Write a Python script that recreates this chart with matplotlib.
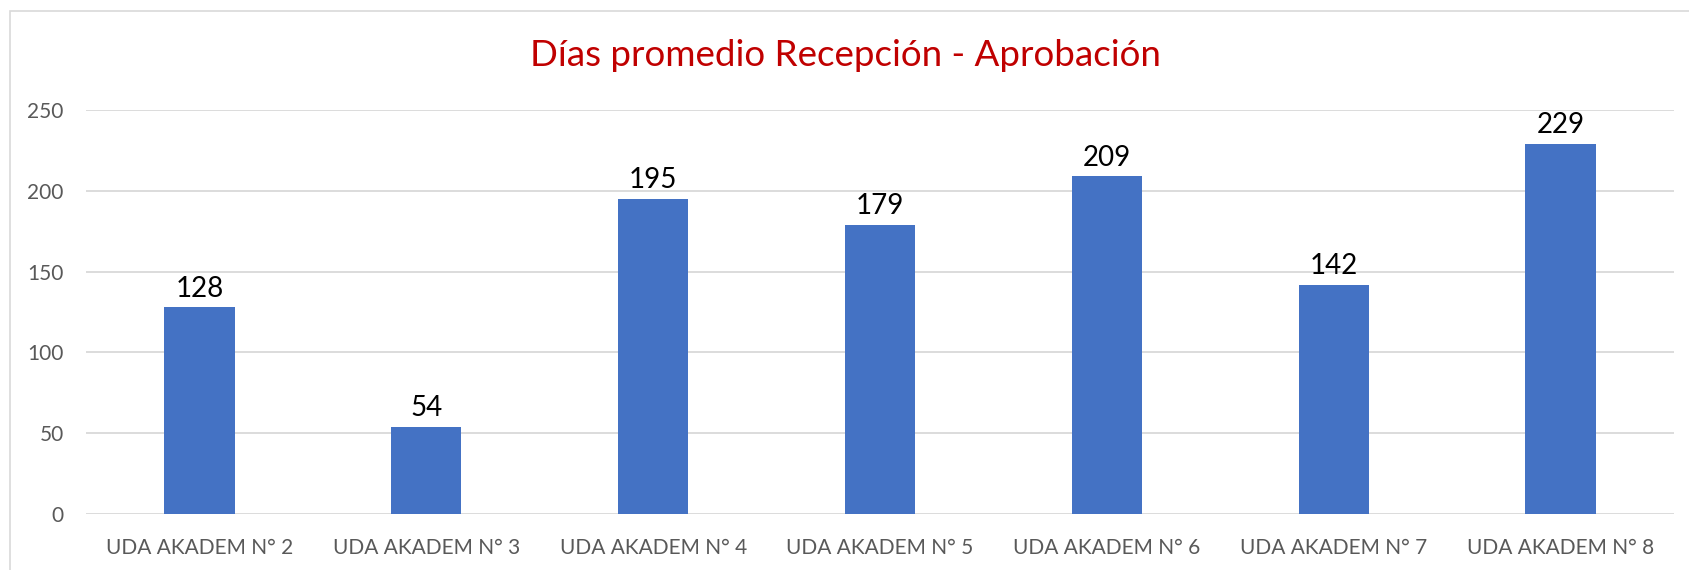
import matplotlib
matplotlib.use("Agg")
import matplotlib.pyplot as plt
from matplotlib.patches import Rectangle

categories = ["UDA AKADEM N° 2", "UDA AKADEM N° 3", "UDA AKADEM N° 4", "UDA AKADEM N° 5",
              "UDA AKADEM N° 6", "UDA AKADEM N° 7", "UDA AKADEM N° 8"]
values = [128, 54, 195, 179, 209, 142, 229]
yticks = [0, 50, 100, 150, 200, 250]
title = "Días promedio Recepción - Aprobación"

plt.rcParams['font.family'] = ['Lato', 'DejaVu Sans']

fig = plt.figure(figsize=(16.9, 5.7), dpi=100)
ax = fig.add_axes([86/1690, 1 - 514/570, (1674-86)/1690, (514-110)/570])

x = list(range(len(categories)))
ax.bar(x, values, width=0.31, color="#4472C4", zorder=3)
for xi, v in zip(x, values):
    ax.annotate(str(v), (xi, v), xytext=(0, 4), textcoords="offset points",
                ha="center", va="bottom", fontsize=20, color="black")

ax.set_xlim(-0.5, len(categories) - 0.5)
ax.set_ylim(0, 250)
ax.set_yticks(yticks)
ax.set_yticklabels([str(t) for t in yticks])
ax.set_xticks(x)
ax.set_xticklabels(categories)
ax.tick_params(axis="both", length=0, colors="#595959", labelsize=15)
ax.tick_params(axis="x", pad=17)
ax.tick_params(axis="y", pad=16)
ax.grid(axis="y", color="#D9D9D9", linewidth=1.3, zorder=0)
for s in ax.spines.values():
    s.set_visible(False)

fig.text(0.5, 1 - 56/570, title, ha="center", va="center", fontsize=26.5, color="#C00000")

fig.patches.append(Rectangle((10/1690, -0.1), 1.2, 1 - 11/570 + 0.1, transform=fig.transFigure,
                             fill=False, edgecolor="#D9D9D9", linewidth=1.2))

fig.savefig("out.png", dpi=100)
